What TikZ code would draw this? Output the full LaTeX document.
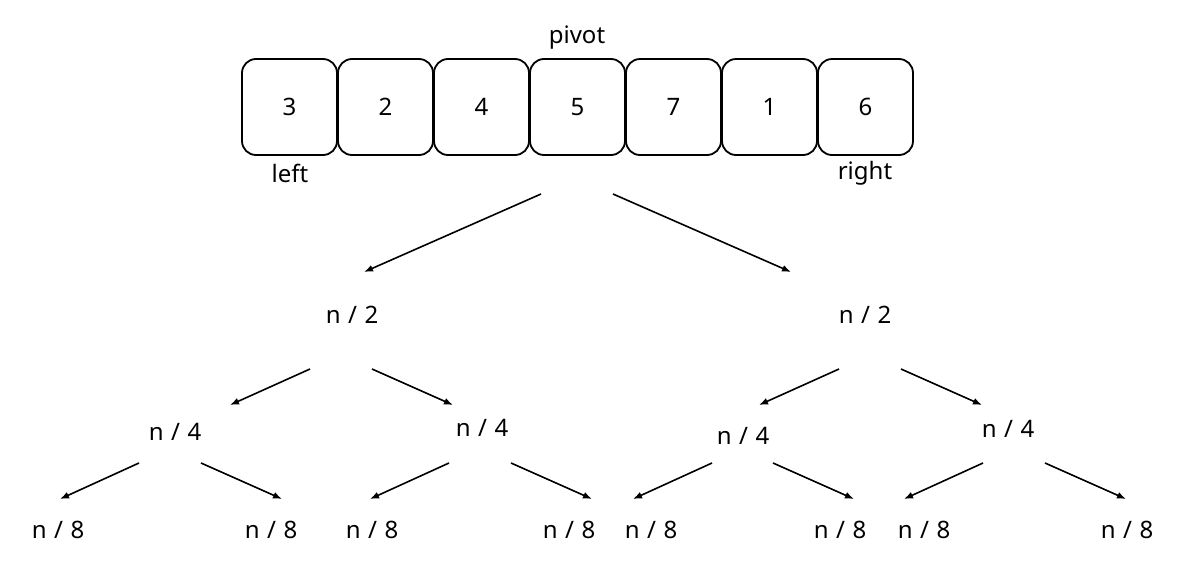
\documentclass[tikz,border=0pt]{standalone}
\usepackage{fontspec}
\setmainfont{Noto Sans}
\usetikzlibrary{arrows.meta}
\begin{document}
\begin{tikzpicture}[x=1pt,y=-1pt,
  cell/.style={draw,line width=1.8pt,rounded corners=14pt,minimum width=95pt,minimum height=96pt,inner sep=0pt,font=\fontsize{24}{28}\selectfont},
  lbl/.style={inner sep=0pt,font=\fontsize{24}{28}\selectfont},
  arr/.style={line width=1.6pt,-{Latex[length=9pt,width=7pt]}}]
\useasboundingbox (0,0) rectangle (1189,584);
\newcommand{\nn}[1]{n\hspace{7.5pt}/\hspace{7.5pt}#1}
% cells
\foreach \v [count=\i from 0] in {3,2,4,5,7,1,6}
  \node[cell] (c\i) at (289.5+96*\i,107) {\v};
\node[lbl] (pivot) at (577,38) {pivot};
\node[lbl] (left) at (290,173) {left};
\node[lbl] (right) at (865,173) {right};
% level 1
\node[lbl] (a1) at (352,315) {\nn{2}};
\node[lbl] (a2) at (865,315) {\nn{2}};
\coordinate (s1) at (541,194); \coordinate (e1) at (364,272);
\coordinate (s2) at (613,194); \coordinate (e2) at (791,272);
\draw[arr] (s1) -- (e1);
\draw[arr] (s2) -- (e2);
% level 2
\node[lbl] (b1) at (175,432) {\nn{4}};
\node[lbl] (b2) at (482,428) {\nn{4}};
\node[lbl] (b3) at (743,436) {\nn{4}};
\node[lbl] (b4) at (1008,429) {\nn{4}};
\foreach \l/\r/\name in {310/372/a1,839/901/a2}{
  \coordinate (\name ls) at (\l,369); \coordinate (\name le) at (\l-80,405);
  \coordinate (\name rs) at (\r,369); \coordinate (\name re) at (\r+81,405);
  \draw[arr] (\name ls) -- (\name le);
  \draw[arr] (\name rs) -- (\name re);
}
% level 3
\foreach \x/\name in {58/d1,271/d2,372/d3,569/d4,651/d5,840/d6,924/d7,1127/d8}
  \node[lbl] (\name) at (\x,530) {\nn{8}};
\foreach \l/\r/\name in {139/201/b1,449/511/b2,712/773/b3,983/1045/b4}{
  \coordinate (\name ls) at (\l,463); \coordinate (\name le) at (\l-79,499);
  \coordinate (\name rs) at (\r,463); \coordinate (\name re) at (\r+81,499);
  \draw[arr] (\name ls) -- (\name le);
  \draw[arr] (\name rs) -- (\name re);
}
\end{tikzpicture}
\end{document}
